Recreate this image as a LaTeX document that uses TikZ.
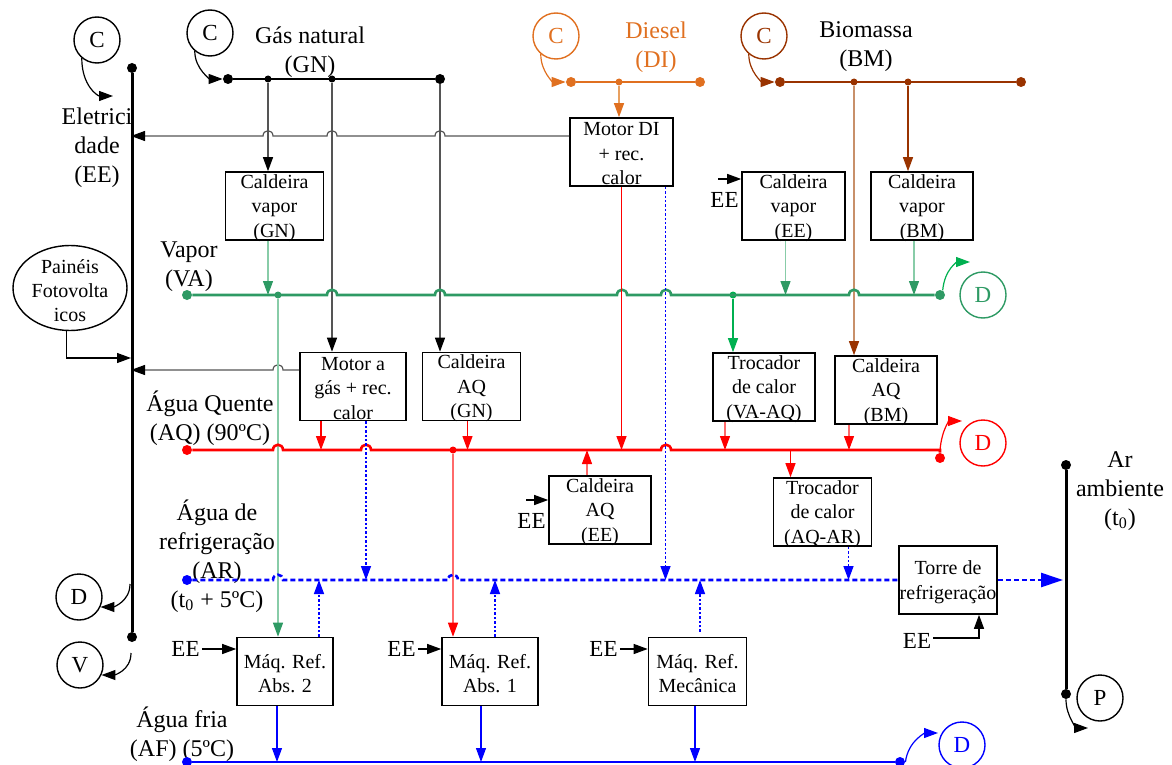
\documentclass[tikz,border=0pt]{standalone}
\usepackage{fontspec}
\setmainfont{Liberation Serif}
\usepackage{tikz}
\usetikzlibrary{arrows.meta, shapes.geometric, positioning, calc}

\definecolor{vagreen}{HTML}{2E9A64}
\definecolor{valight}{HTML}{88CCA8}
\definecolor{vabright}{HTML}{00B050}
\definecolor{aqred}{HTML}{FF0000}
\definecolor{aqlight}{HTML}{FF6A6A}
\definecolor{diorange}{HTML}{E07020}
\definecolor{dilight}{HTML}{E8A060}
\definecolor{bmbrown}{HTML}{993300}
\definecolor{bmlight}{HTML}{C8906A}
\definecolor{arblue}{HTML}{0000FF}
\definecolor{eegray}{HTML}{555555}

% small hop where a line crosses another one
\newcommand{\hopR}[2]{-- (#1-5,#2) .. controls +(0,-7) and +(0,-7) .. (#1+5,#2)}
\newcommand{\hopL}[2]{-- (#1+5,#2) .. controls +(0,-7) and +(0,-7) .. (#1-5,#2)}
% equipment box: [width]{name}{position}{text}
\newcommand{\eqbox}[4][49pt]{%
  \node[box, minimum width=#1] (#2) at (#3) {};
  \node[boxtxt] (#2-t) at ([yshift=-1pt]#2.center) {#4};}

\tikzset{
  bus/.style={line width=1.3pt},
  feed/.style={line width=0.6pt},
  dotfeed/.style={line width=0.7pt, dash pattern=on 1.2pt off 1pt},
  ardash/.style={dash pattern=on 2.5pt off 1.5pt},
  box/.style={draw, line width=0.8pt, inner sep=0pt, minimum height=34pt},
  boxtxt/.style={font=\fontsize{10}{12.25}\selectfont, align=center, inner sep=0pt},
  lbl/.style={font=\fontsize{12}{14.5}\selectfont, align=center, inner sep=0pt},
  src/.style={draw, circle, line width=0.7pt, inner sep=0pt, minimum size=23pt,
    font=\fontsize{11.5}{14}\selectfont},
  eelbl/.style={font=\fontsize{11.5}{14}\selectfont, inner sep=1pt},
  bigdot/.style={circle, fill, inner sep=0pt, minimum size=5pt},
  smalldot/.style={circle, fill, inner sep=0pt, minimum size=3.5pt},
  toBlack/.style={-{Triangle[length=7pt,width=5pt,color=black]}},
  toGreen/.style={-{Triangle[length=7pt,width=5pt,color=vagreen]}},
  toLime/.style={-{Triangle[length=7pt,width=5pt,color=vabright]}},
  toRed/.style={-{Triangle[length=7pt,width=5pt,color=aqred]}},
  toBlue/.style={-{Triangle[length=7pt,width=5pt,color=arblue]}},
  toOrange/.style={-{Triangle[length=7pt,width=5pt,color=diorange]}},
  toBrown/.style={-{Triangle[length=7pt,width=5pt,color=bmbrown]}},
}

\begin{document}
\begin{tikzpicture}[x=0.5pt, y=-0.5pt]
    \useasboundingbox (0,0) rectangle (1172,765);

    % equipment
    \eqbox{cvGN}{274.5,206}{Caldeira\\vapor\\(GN)}
    \eqbox[51.5pt]{motorDI}{621.5,152}{Motor DI\\+ rec.\\calor}
    \eqbox[51.5pt]{cvEE}{793.5,206}{Caldeira\\vapor\\(EE)}
    \eqbox[51pt]{cvBM}{922,206}{Caldeira\\vapor\\(BM)}
    \eqbox[53pt]{motorGas}{353,386.5}{Motor a\\gás + rec.\\calor}
    \eqbox{caGN}{471.5,386.5}{Caldeira\\AQ\\(GN)}
    \eqbox[51pt]{trVA}{764,387}{Trocador\\de calor\\(VA-AQ)}
    \eqbox[51pt]{caBM}{886,390}{Caldeira\\AQ\\(BM)}
    \eqbox[51pt]{caEE}{600,510}{Caldeira\\AQ\\(EE)}
    \eqbox{trAR}{822.5,512}{Trocador\\de calor\\(AQ-AR)}
    \eqbox{torre}{948,580}{Torre de\\refrigeração}
    \eqbox[48pt]{mrA2}{285,671.5}{Máq. Ref.\\Abs. 2}
    \eqbox[48pt]{mrA1}{490,671.5}{Máq. Ref.\\Abs. 1}
    \eqbox{mrMec}{697.5,671.5}{Máq. Ref.\\Mecânica}

    % electricity
    \node[bigdot] (eeTop) at (132,68) {};
    \node[bigdot] (eeBot) at (132,637) {};
    \draw[line width=1.5pt] (eeTop) -- (eeBot);
    \node[src] (cEE) at (97,40) {C};
    \coordinate (eeIn0) at (113,96);
    \draw[feed, toBlack] (cEE.230) .. controls +(0,28) and +(-15,0) .. (eeIn0);
    \node[lbl] (eeLbl) at (97,148) {Eletrici\\dade\\(EE)};
    \node[src] (dEE) at (79,597) {D};
    \node[src] (vEE) at (80,665) {V};
    \coordinate (eeD) at (130,584);
    \coordinate (eeV) at (131,653);
    \draw[feed, toBlack] (eeD) .. controls +(0,18) and +(12,0) .. (dEE.-25);
    \draw[feed, toBlack] (eeV) .. controls +(0,18) and +(12,0) .. (vEE.-25);

    \node[ellipse, draw, line width=0.7pt, minimum width=57pt, minimum height=42.5pt, inner sep=0pt] (pv) at (70,288) {};
    \node[font=\fontsize{10}{12}\selectfont, align=center, inner sep=0pt] (pvTxt) at (70,291) {Painéis\\Fotovolta\\icos};
    \coordinate (eeIn1) at (131,136);
    \coordinate (eeIn2) at (131,370);
    \coordinate (eeIn3) at (131,358);
    \draw[feed, toBlack] (pv.265) |- (eeIn3);
    \draw[feed, eegray, toBlack] ([yshift=8pt]motorDI.west) \hopL{440}{136} \hopL{332}{136} \hopL{268}{136} -- (eeIn1);
    \draw[feed, eegray, toBlack] ([yshift=8.25pt]motorGas.west) \hopL{278}{370} -- (eeIn2);

    % natural gas
    \node[src] (cGN) at (210,33) {C};
    \node[lbl] (gnLbl) at (310,52) {Gás natural\\(GN)};
    \node[bigdot] (gnA) at (228,79) {};
    \node[smalldot] (gn1) at (268,79) {};
    \node[smalldot] (gn2) at (332,79) {};
    \node[bigdot] (gnB) at (440,79) {};
    \draw[bus] (gnA) -- (gnB);
    \draw[feed, toBlack] (cGN.230) .. controls +(0,18) and +(-12,0) .. (gnA.west);
    \draw[feed, eegray, toBlack] (gn1) -- (gn1 |- cvGN.north);
    \draw[feed, eegray, toBlack] (gn2) -- (gn2 |- motorGas.north);
    \draw[feed, eegray, toBlack] (gnB) -- (gnB |- caGN.north);

    % diesel
    \node[src, diorange] (cDI) at (556,36) {C};
    \node[lbl, diorange] (diLbl) at (656,47) {Diesel\\(DI)};
    \node[bigdot, diorange] (diA) at (571,82) {};
    \node[smalldot, diorange] (di1) at (619,82) {};
    \node[bigdot, diorange] (diB) at (700,82) {};
    \draw[bus, diorange] (diA) -- (diB);
    \draw[feed, diorange, toOrange] (cDI.230) .. controls +(0,18) and +(-12,0) .. (diA.west);
    \draw[feed, dilight, toOrange] (di1) -- (di1 |- motorDI.north);

    % biomass
    \node[src, bmbrown] (cBM) at (764,36) {C};
    \node[lbl] (bmLbl) at (866,47) {Biomassa\\(BM)};
    \node[bigdot, bmbrown] (bmA) at (780,82) {};
    \node[smalldot, bmbrown] (bm1) at (854,82) {};
    \node[smalldot, bmbrown] (bm2) at (908,82) {};
    \node[bigdot, bmbrown] (bmB) at (1021,82) {};
    \draw[bus, bmbrown] (bmA) -- (bmB);
    \draw[feed, bmbrown, toBrown] (cBM.230) .. controls +(0,18) and +(-12,0) .. (bmA.west);
    \draw[feed, bmbrown, toBrown] (bm2) -- (bm2 |- cvBM.north);
    \draw[feed, bmlight, toBrown] (bm1) -- (bm1 |- caBM.north);

    % steam
    \node[lbl] (vaLbl) at (189,267) {Vapor\\(VA)};
    \node[bigdot, vagreen] (vaA) at (187,295) {};
    \node[smalldot, vagreen] (va1) at (278,295) {};
    \node[smalldot, vabright] (va2) at (733,295) {};
    \node[bigdot, vagreen] (vaB) at (940,295) {};
    \draw[bus, vagreen] (vaA) \hopR{332}{295} \hopR{440}{295} \hopR{622}{295} \hopR{666}{295} \hopR{854}{295} -- (vaB);
    \node[src, vagreen] (dVA) at (983,295) {D};
    \coordinate (dVAin) at (970,262);
    \draw[feed, vabright, toLime] (vaB.60) .. controls +(2,-22) and +(-12,0) .. (dVAin);
    \draw[feed, valight, toGreen] (gn1 |- cvGN.south) -- (gn1 |- vaA);
    \draw[feed, valight, toGreen] ([xshift=-4pt]cvEE.south) -- ([xshift=-4pt]cvEE.south |- vaA);
    \draw[feed, valight, toGreen] ([xshift=-4pt]cvBM.south) -- ([xshift=-4pt]cvBM.south |- vaA);
    \draw[feed, vabright, toLime] (va2) -- (va2 |- trVA.north);
    \draw[feed, valight, toGreen] (va1) -- (va1 |- mrA2.north);

    % hot water
    \node[lbl] (aqLbl) at (210,418) {Água Quente\\(AQ) (90ºC)};
    \node[bigdot, aqred] (aqA) at (187,450) {};
    \node[smalldot, aqred] (aq1) at (453,450) {};
    \coordinate (aqEnd) at (940,450);
    \node[bigdot, aqred] (aqB) at (940,458) {};
    \draw[bus, aqred] (aqA) \hopR{278}{450} \hopR{366}{450} \hopR{666}{450} -- (aqEnd) -- (aqB);
    \node[src, aqred] (dAQ) at (983,443) {D};
    \coordinate (dAQin) at (962,421);
    \draw[feed, aqred, toRed] (aqEnd) .. controls +(2,-22) and +(-12,0) .. (dAQin);
    \draw[feed, aqred, toRed] ([xshift=-16pt]motorGas.south) -- ([xshift=-16pt]motorGas.south |- aqA);
    \draw[feed, aqred, toRed] ([xshift=-2pt]caGN.south) -- ([xshift=-2pt]caGN.south |- aqA);
    \draw[feed, line width=0.7pt, aqred, toRed] (motorDI.south) -- (motorDI.south |- aqA);
    \draw[feed, aqlight, toRed] ([xshift=-19.5pt]trVA.south) -- ([xshift=-19.5pt]trVA.south |- aqA);
    \draw[feed, aqlight, toRed] ([xshift=-18.5pt]caBM.south) -- ([xshift=-18.5pt]caBM.south |- aqA);
    \draw[feed, aqlight, toRed] ([xshift=-6.5pt]caEE.north) -- ([xshift=-6.5pt]caEE.north |- aqA);
    \draw[feed, aqred, toRed] ([xshift=-16pt]trAR.north |- aqA) -- ([xshift=-16pt]trAR.north);
    \draw[feed, aqlight, toRed] (aq1) -- (aq1 |- mrA1.north);

    % cooling water
    \node[lbl] (arLbl) at (217,556) {Água de\\refrigeração\\(AR)\\(t\textsubscript{0} + 5ºC)};
    \node[bigdot, arblue] (arA) at (187,580) {};
    \coordinate (arIn) at (1063,580);
    \draw[bus, ardash, arblue] (arA) \hopR{278}{580} \hopR{453}{580} -- (torre.west);
    \draw[bus, ardash, arblue, -{Triangle[length=11pt,width=7pt]}] (torre.east) -- (arIn);
    \draw[dotfeed, arblue, toBlue] ([xshift=6.5pt]motorGas.south) -- ([xshift=6.5pt]motorGas.south |- arA);
    \draw[dotfeed, arblue, toBlue] ([xshift=22pt]motorDI.south) -- ([xshift=22pt]motorDI.south |- arA);
    \draw[dotfeed, arblue, toBlue] ([xshift=13pt]trAR.south) -- ([xshift=13pt]trAR.south |- arA);
    \draw[dotfeed, arblue, toBlue] ([xshift=17pt]mrA2.north) -- ([xshift=17pt]mrA2.north |- arA);
    \draw[dotfeed, arblue, toBlue] ([xshift=2.5pt]mrA1.north) -- ([xshift=2.5pt]mrA1.north |- arA);
    \draw[dotfeed, arblue, toBlue] ([xshift=1.25pt,yshift=2.5pt]mrMec.north) -- ([xshift=1.25pt]mrMec.north |- arA);

    % chilled water
    \node[lbl] (afLbl) at (182,734) {Água fria\\(AF) (5ºC)};
    \node[bigdot, arblue] (afA) at (187,762) {};
    \node[bigdot, arblue] (afB) at (900,762) {};
    \draw[bus, arblue] (afA) -- (afB);
    \node[src, arblue] (dAF) at (962,745) {D};
    \coordinate (dAFin) at (938,733);
    \draw[feed, arblue, toBlue] (afB.east) .. controls +(3,-22) and +(-12,0) .. (dAFin);
    \draw[feed, arblue, toBlue] ([xshift=-4pt]mrA2.south) -- ([xshift=-4pt]mrA2.south |- afA);
    \draw[feed, arblue, toBlue] ([xshift=-4.5pt]mrA1.south) -- ([xshift=-4.5pt]mrA1.south |- afA);
    \draw[feed, arblue, toBlue] ([xshift=-1.25pt]mrMec.south) -- ([xshift=-1.25pt]mrMec.south |- afA);

    % ambient air
    \node[bigdot] (arTop) at (1066,465) {};
    \node[bigdot] (arBot) at (1066,694) {};
    \draw[line width=1.5pt] (arTop) -- (arBot);
    \node[lbl] (arAmb) at (1120,491) {Ar\\ambiente\\(t\textsubscript{0})};
    \node[src] (pAr) at (1100,698) {P};
    \coordinate (pArIn) at (1088,728);
    \draw[feed, toBlack] (arBot.south) .. controls +(0,18) and +(-10,0) .. (pArIn);

    % electricity inputs
    \node[eelbl] (eeA2) at (185.5,649) {EE};
    \node[eelbl] (eeA1) at (401.5,649) {EE};
    \node[eelbl] (eeMec) at (603.5,649) {EE};
    \node[eelbl] (eeCV) at (724.5,200) {EE};
    \node[eelbl] (eeCA) at (531.5,521) {EE};
    \node[eelbl] (eeTo) at (917,641) {EE};
    \draw[feed, toBlack] (eeA2.east) -- ([yshift=11.25pt]mrA2.west);
    \draw[feed, toBlack] (eeA1.east) -- ([yshift=11.25pt]mrA1.west);
    \draw[feed, toBlack] (eeMec.east) -- ([yshift=11.25pt]mrMec.west);
    \draw[feed, toBlack] ([xshift=-11.5pt,yshift=13.5pt]cvEE.west) -- ([yshift=13.5pt]cvEE.west);
    \draw[feed, toBlack] ([xshift=-11pt,yshift=5pt]caEE.west) -- ([yshift=5pt]caEE.west);
    \draw[feed, toBlack] ([yshift=1.5pt]eeTo.east) -| ([xshift=15.5pt]torre.south);

\end{tikzpicture}
\end{document}
